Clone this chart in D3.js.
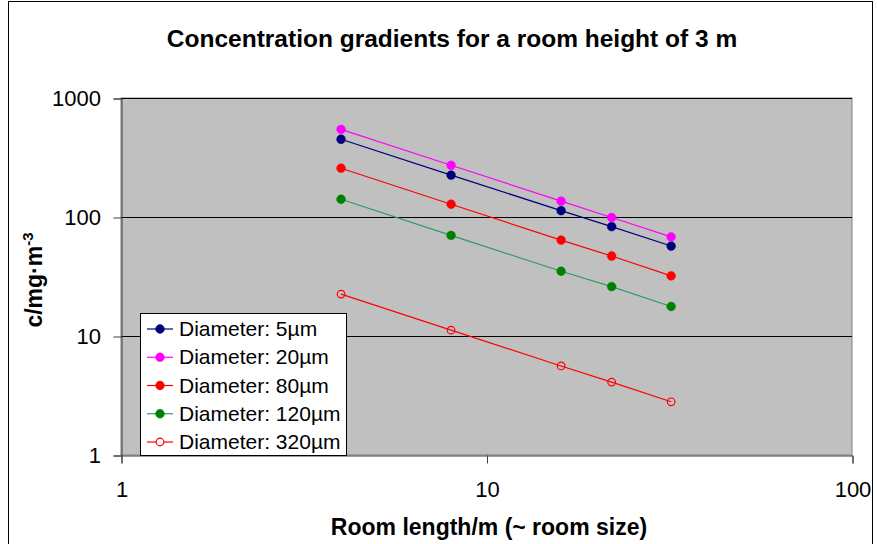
<!DOCTYPE html>
<html>
<head>
<meta charset="utf-8">
<script src="https://cdn.jsdelivr.net/npm/d3@7"></script>
<style>
  body { margin: 0; background: #fff; }
  svg text { font-family: "Liberation Sans", Arial, sans-serif; fill: #000; }
</style>
</head>
<body>
<svg id="chart" width="877" height="544"></svg>
<script>
// room length in m
var roomLength = [4, 8, 16, 22, 32];

// concentrations per particle diameter, mg/m3
var dia5   = [450, 225, 113, 83, 57];
var dia20  = [545, 272, 136, 99, 68];
var dia80  = [257, 128, 64, 47, 32];
var dia120 = [141, 70, 35, 26, 17.7];
var dia320 = [22.5, 11.2, 5.6, 4.1, 2.8];

var seriesNames = ['Diameter: 5µm', 'Diameter: 20µm', 'Diameter: 80µm', 'Diameter: 120µm', 'Diameter: 320µm'];
var xTicks = [1, 10, 100];
var yTicks = [1, 10, 100, 1000];

var series = [
    { name: seriesNames[0], values: dia5,   line: '#000080', dot: '#000080', open: false },
    { name: seriesNames[1], values: dia20,  line: '#ff00ff', dot: '#ff00ff', open: false },
    { name: seriesNames[2], values: dia80,  line: '#ff0000', dot: '#ff0000', open: false },
    { name: seriesNames[3], values: dia120, line: '#339966', dot: '#008000', open: false },
    { name: seriesNames[4], values: dia320, line: '#ff0000', dot: '#ff0000', open: true }
];

var svg = d3.select('#chart'),
    plot = { left: 121, top: 98, right: 852, bottom: 455 };

var x = d3.scaleLog().domain([1, 100]).range([plot.left, plot.right]);
var y = d3.scaleLog().domain([1, 1000]).range([plot.bottom, plot.top]);

function label(g, px, py, txt, opts) {
    opts = opts || {};
    return g.append('text')
        .attr('transform', 'translate(' + px + ',' + py + ')' + (opts.rotate ? ' rotate(' + opts.rotate + ')' : ''))
        .attr('text-anchor', opts.anchor || 'start')
        .attr('font-size', opts.size || 18)
        .attr('font-weight', opts.bold ? 'bold' : 'normal')
        .text(txt);
}

// outer chart border
svg.append('rect')
    .attr('x', 8.5).attr('y', 1.5)
    .attr('width', 864).attr('height', 600)
    .attr('fill', '#fff').attr('stroke', '#000');

// plot area
svg.append('rect')
    .attr('x', plot.left).attr('y', plot.top)
    .attr('width', plot.right - plot.left).attr('height', plot.bottom - plot.top)
    .attr('fill', '#c0c0c0').attr('stroke', '#808080');

// gridlines
svg.append('g').selectAll('line')
    .data(yTicks.slice(1))
    .enter().append('line')
    .attr('x1', plot.left).attr('x2', plot.right)
    .attr('y1', function(d) { return Math.round(y(d)) + 0.5; })
    .attr('y2', function(d) { return Math.round(y(d)) + 0.5; })
    .attr('stroke', '#000');

// axes
svg.append('g')
    .attr('transform', 'translate(' + (plot.left + 0.5) + ',0.5)')
    .call(d3.axisLeft(y).tickValues(yTicks).tickSize(8).tickFormat(''));
svg.append('g')
    .attr('transform', 'translate(0.5,' + (plot.bottom + 0.5) + ')')
    .call(d3.axisBottom(x).tickValues(xTicks).tickSize(8).tickFormat(''));
svg.selectAll('.domain').attr('stroke', '#404040');
svg.selectAll('.tick line').attr('stroke', '#404040');

var labels = svg.append('g');
yTicks.forEach(function(d) {
    label(labels, plot.left - 20, y(d) + 8, d3.format('d')(d), { anchor: 'end', size: 22 });
});
xTicks.forEach(function(d) {
    label(labels, x(d) + 1, 497, d3.format('d')(d), { anchor: 'middle', size: 22 });
});

// title and axis titles
label(labels, 452, 47, 'Concentration gradients for a room height of 3 m', { anchor: 'middle', size: 24.5, bold: true });
label(labels, 489, 535, 'Room length/m (~ room size)', { anchor: 'middle', size: 23, bold: true });
var yt = label(labels, 42, 280, 'c/mg·m', { anchor: 'middle', size: 23, bold: true, rotate: -90 });
yt.append('tspan').attr('dy', -9).attr('font-size', 15).text('-3');

// series lines and markers
var line = d3.line()
    .x(function(d, i) { return x(roomLength[i]); })
    .y(function(d) { return y(d); });

var sg = svg.append('g').selectAll('g')
    .data(series)
    .enter().append('g');

sg.append('path')
    .attr('d', function(s) { return line(s.values); })
    .attr('fill', 'none')
    .attr('stroke', function(s) { return s.line; })
    .attr('stroke-width', 1.2);

sg.selectAll('circle')
    .data(function(s) { return s.values.map(function(v, i) { return { s: s, v: v, i: i }; }); })
    .enter().append('circle')
    .attr('cx', function(d) { return x(roomLength[d.i]); })
    .attr('cy', function(d) { return y(d.v); })
    .attr('r', function(d) { return d.s.open ? 3.8 : 4.4; })
    .attr('fill', function(d) { return d.s.open ? 'none' : d.s.dot; })
    .attr('stroke', function(d) { return d.s.dot; })
    .attr('stroke-width', function(d) { return d.s.open ? 1.2 : 0.5; });

// legend
var legend = svg.append('g').attr('transform', 'translate(140,313)');
legend.append('rect')
    .attr('x', 0.5).attr('y', 0.5)
    .attr('width', 206).attr('height', 142)
    .attr('fill', '#fff').attr('stroke', '#000');

var item = legend.selectAll('.item')
    .data(series)
    .enter().append('g')
    .attr('class', 'item')
    .attr('transform', function(d, i) { return 'translate(0,' + (16 + i * 28.25) + ')'; });

item.append('line')
    .attr('x1', 7).attr('x2', 33)
    .attr('stroke', function(s) { return s.line; })
    .attr('stroke-width', 1.2);
item.append('circle')
    .attr('cx', 20).attr('r', function(s) { return s.open ? 3.8 : 4.4; })
    .attr('fill', function(s) { return s.open ? '#fff' : s.dot; })
    .attr('stroke', function(s) { return s.dot; })
    .attr('stroke-width', function(s) { return s.open ? 1.2 : 0.5; });
item.each(function(s) {
    label(d3.select(this), 39, 7, s.name, { size: 21 });
});
</script>
</body>
</html>
